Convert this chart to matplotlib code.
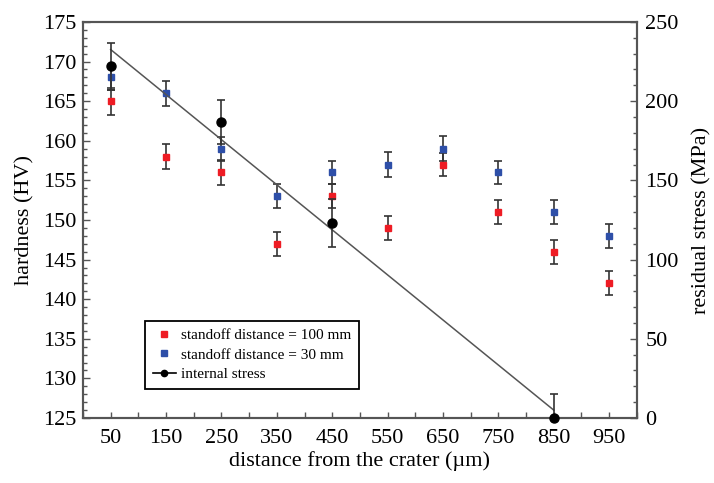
import numpy as np
import matplotlib
matplotlib.use("Agg")
import matplotlib.pyplot as plt
from matplotlib.ticker import MultipleLocator
from matplotlib.lines import Line2D

plt.rcParams['font.family'] = ['Liberation Serif', 'DejaVu Serif']

# data
distance = [50, 150, 250, 350, 450, 550, 650, 750, 850, 950]
hv_100mm = [165, 158, 156, 147, 153, 149, 157, 151, 146, 142]
hv_100mm_err = [1.7, 1.6, 1.6, 1.5, 1.5, 1.5, 1.5, 1.5, 1.5, 1.5]
hv_30mm = [168, 166, 159, 153, 156, 157, 159, 156, 151, 148]
hv_30mm_err = [1.6, 1.6, 1.5, 1.5, 1.5, 1.6, 1.6, 1.5, 1.5, 1.5]

stress_dist = [50, 250, 450, 850]
stress = [222, 187, 123, 0]
stress_err = [15, 14, 15, 15]

xticks = [50, 150, 250, 350, 450, 550, 650, 750, 850, 950]

fig = plt.figure(figsize=(7.14, 4.83), dpi=100)
ax = fig.add_axes([0.1162, 0.1346, 0.7758, 0.8199])
ax2 = ax.twinx()

red = '#ee1c24'
blue = '#2e4fa8'
ecol = '#333333'
ax.errorbar(distance, hv_100mm, yerr=hv_100mm_err, fmt='s', color=red,
            ms=5, ecolor=ecol, elinewidth=1.2, capsize=3, capthick=1.2, zorder=3)
ax.errorbar(distance, hv_30mm, yerr=hv_30mm_err, fmt='s', color=blue,
            ms=5, ecolor=ecol, elinewidth=1.2, capsize=3, capthick=1.2, zorder=3)

# linear fit of internal stress
k, b = np.polyfit(stress_dist, stress, 1)
fit_x = np.array([stress_dist[0], stress_dist[-1]])
ax2.plot(fit_x, k * fit_x + b, color='#555555', lw=1.1, zorder=2)
ax2.errorbar(stress_dist, stress, yerr=stress_err, fmt='none',
             ecolor=ecol, elinewidth=1.2, capsize=3, capthick=1.2, zorder=4)
ax2.plot(stress_dist, stress, 'o', color='black', ms=6.5, zorder=5, clip_on=False)

ax.set_xlim(0, 1000)
ax.set_ylim(125, 175)
ax2.set_ylim(0, 250)
ax.set_xticks(xticks)
ax.xaxis.set_minor_locator(MultipleLocator(50))
ax.yaxis.set_major_locator(MultipleLocator(5))
ax.yaxis.set_minor_locator(MultipleLocator(1))
ax2.yaxis.set_major_locator(MultipleLocator(50))
ax2.yaxis.set_minor_locator(MultipleLocator(10))

for a in (ax, ax2):
    for s in a.spines.values():
        s.set_color('#555555')
        s.set_linewidth(1.5)
ax.tick_params(axis='both', which='both', direction='in', color='#555555',
               labelsize=16, top=False)
ax.tick_params(axis='y', which='major', length=5, width=1, pad=5)
ax.tick_params(axis='y', which='minor', length=3, width=1)
ax.tick_params(axis='x', which='both', length=4, width=1, pad=8)
ax2.tick_params(axis='y', which='both', direction='in', color='#555555',
                labelsize=16, pad=6)
ax2.tick_params(axis='y', which='major', length=5, width=1)
ax2.tick_params(axis='y', which='minor', length=3, width=1)

ax.set_xlabel('distance from the crater (µm)', fontsize=16, labelpad=2)
ax.set_ylabel('hardness (HV)', fontsize=16, labelpad=6)
ax2.set_ylabel('residual stress (MPa)', fontsize=16, labelpad=10)

handles = [
    Line2D([], [], color=red, marker='s', ms=4, lw=0),
    Line2D([], [], color=blue, marker='s', ms=4, lw=0),
    Line2D([], [], color='black', marker='o', ms=4.5, lw=1.2),
]
labels = ['standoff distance = 100 mm', 'standoff distance = 30 mm', 'internal stress']
leg = ax2.legend(handles, labels, loc='lower left', bbox_to_anchor=(0.112, 0.074),
                 fontsize=11, frameon=True, fancybox=False, edgecolor='black',
                 handlelength=1.5, borderpad=0.5, borderaxespad=0,
                 labelspacing=0.38, handletextpad=0.35, framealpha=1)
leg.get_frame().set_linewidth(1.3)

fig.savefig('out.png', dpi=100)
